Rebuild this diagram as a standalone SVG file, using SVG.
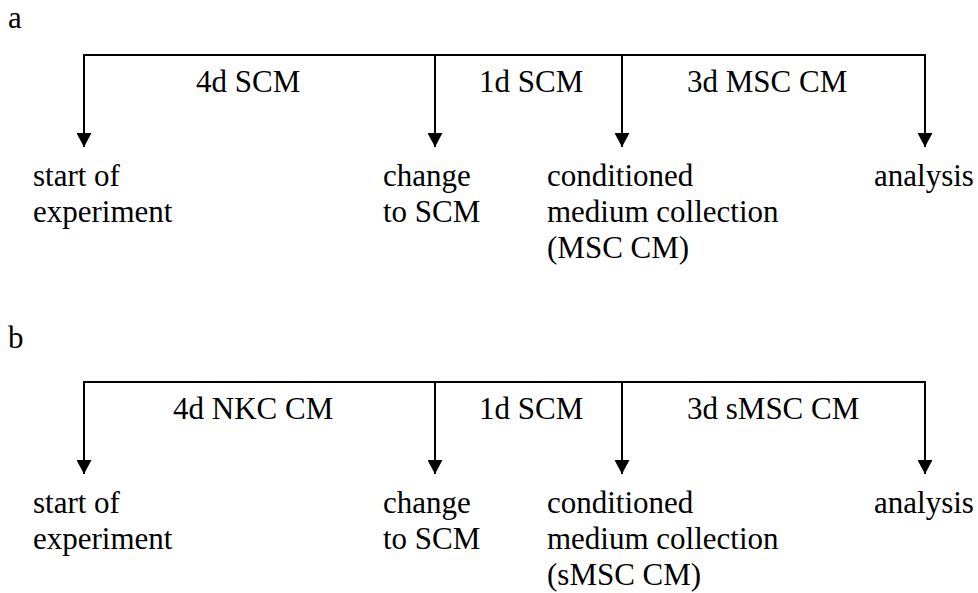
<svg xmlns="http://www.w3.org/2000/svg" width="978" height="593" viewBox="0 0 978 593">
  <style>
    .line { stroke: #000; stroke-width: 2; fill: none; }
  </style>
  <defs>
    <!-- solid triangular head, drawn pointing along +x so orient="auto" turns it downward -->
    <marker id="arrow" markerUnits="userSpaceOnUse" markerWidth="15" markerHeight="15" refX="14" refY="7.5" orient="auto" viewBox="0 0 15 15">
      <path d="M0,0 L14,7.5 L0,15 Z" fill="#000"/>
    </marker>
  </defs>
  <rect width="978" height="593" fill="#fff"/>

  <!-- Panel a -->
  <g id="connectors-a">
    <path class="line" d="M84,55 H925"/>
    <path class="line" d="M84,54 V147" marker-end="url(#arrow)"/>
    <path class="line" d="M435,55 V147" marker-end="url(#arrow)"/>
    <path class="line" d="M622,55 V147" marker-end="url(#arrow)"/>
    <path class="line" d="M925,54 V147" marker-end="url(#arrow)"/>
  </g>
  <!-- Panel b -->
  <g id="connectors-b">
    <path class="line" d="M84,382 H925"/>
    <path class="line" d="M84,381 V474" marker-end="url(#arrow)"/>
    <path class="line" d="M435,382 V474" marker-end="url(#arrow)"/>
    <path class="line" d="M622,382 V474" marker-end="url(#arrow)"/>
    <path class="line" d="M925,381 V474" marker-end="url(#arrow)"/>
  </g>

  <g style="font-family: 'Liberation Serif', serif; font-size: 31px" fill="#000">
    <text id="label-a" x="8" y="28" font-family="Liberation Serif, serif">a</text>
    <g id="periods-a">
      <text x="196" y="92" font-family="Liberation Serif, serif">4d SCM</text>
      <text x="479" y="92" font-family="Liberation Serif, serif">1d SCM</text>
      <text x="687" y="92" font-family="Liberation Serif, serif">3d MSC CM</text>
    </g>
    <g id="a-start"><text x="33" y="186" font-family="Liberation Serif, serif">start of</text><text x="33" y="222" font-family="Liberation Serif, serif">experiment</text></g>
    <g id="a-change"><text x="383" y="186" font-family="Liberation Serif, serif">change</text><text x="383" y="222" font-family="Liberation Serif, serif">to SCM</text></g>
    <g id="a-collection"><text x="547" y="186" font-family="Liberation Serif, serif">conditioned</text><text x="547" y="222" font-family="Liberation Serif, serif">medium collection</text><text x="547" y="258" font-family="Liberation Serif, serif">(MSC CM)</text></g>
    <g id="a-analysis"><text x="874" y="186" font-family="Liberation Serif, serif">analysis</text></g>

    <text id="label-b" x="8" y="348" font-family="Liberation Serif, serif">b</text>
    <g id="periods-b">
      <text x="173" y="419" font-family="Liberation Serif, serif">4d NKC CM</text>
      <text x="479" y="419" font-family="Liberation Serif, serif">1d SCM</text>
      <text x="687" y="419" font-family="Liberation Serif, serif">3d sMSC CM</text>
    </g>
    <g id="b-start"><text x="33" y="513" font-family="Liberation Serif, serif">start of</text><text x="33" y="549" font-family="Liberation Serif, serif">experiment</text></g>
    <g id="b-change"><text x="383" y="513" font-family="Liberation Serif, serif">change</text><text x="383" y="549" font-family="Liberation Serif, serif">to SCM</text></g>
    <g id="b-collection"><text x="547" y="513" font-family="Liberation Serif, serif">conditioned</text><text x="547" y="549" font-family="Liberation Serif, serif">medium collection</text><text x="547" y="585" font-family="Liberation Serif, serif">(sMSC CM)</text></g>
    <g id="b-analysis"><text x="874" y="513" font-family="Liberation Serif, serif">analysis</text></g>
  </g>
</svg>
